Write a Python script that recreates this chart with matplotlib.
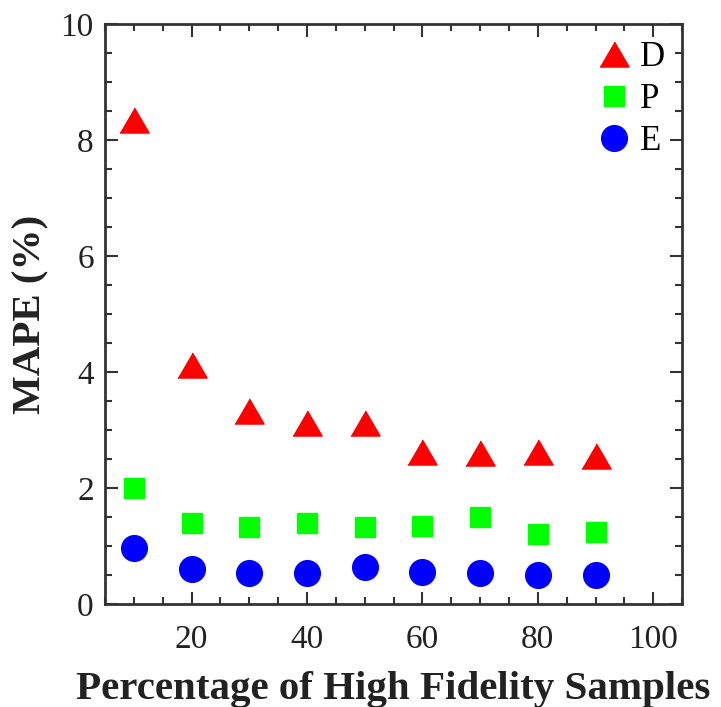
import matplotlib.pyplot as plt
from matplotlib.ticker import MultipleLocator

plt.rcParams['font.family'] = ['Liberation Serif', 'DejaVu Serif']

pct = [10, 20, 30, 40, 50, 60, 70, 80, 90]
mape_d = [8.35, 4.12, 3.32, 3.12, 3.12, 2.62, 2.60, 2.62, 2.55]
mape_p = [2.0, 1.40, 1.32, 1.40, 1.32, 1.34, 1.50, 1.21, 1.24]
mape_e = [0.97, 0.60, 0.53, 0.53, 0.63, 0.55, 0.54, 0.50, 0.50]

tri = [(-1, -0.86), (1, -0.86), (0, 0.86)]

fig = plt.figure(figsize=(7.21, 7.07), dpi=100)
ax = fig.add_axes([0.1456, 0.1457, 0.8004, 0.8203])

ax.plot(pct, mape_d, linestyle='none', marker=tri, ms=21, color='#ff0000', label='D')
ax.plot(pct, mape_p, linestyle='none', marker='s', ms=14.5, color='#00ff00', label='P')
ax.plot(pct, mape_e, linestyle='none', marker='o', ms=18.5, color='#0000ff', label='E')

ax.set_xlim(5, 105)
ax.set_ylim(0, 10)
ax.xaxis.set_major_locator(MultipleLocator(20))
ax.xaxis.set_minor_locator(MultipleLocator(5))
ax.yaxis.set_major_locator(MultipleLocator(2))
ax.yaxis.set_minor_locator(MultipleLocator(0.5))
ax.tick_params(which='both', direction='in', top=True, right=True, color='#333333', width=1.5)
ax.tick_params(which='major', length=9, labelsize=24, labelcolor='#222222', pad=8)
ax.tick_params(axis='x', which='major', pad=15)
ax.tick_params(which='minor', length=5)
for s in ax.spines.values():
    s.set_linewidth(2)
    s.set_color('#333333')

ax.set_xlabel('Percentage of High Fidelity Samples', fontsize=29.5, fontweight='bold', color='#222222', labelpad=11)
ax.set_ylabel('MAPE (%)', fontsize=29.5, fontweight='bold', color='#222222', labelpad=8)

ax.legend(loc='upper right', frameon=False, fontsize=25, handletextpad=0.15,
          labelspacing=0.25, borderaxespad=0.1, handlelength=1.2)

fig.savefig('out.png', dpi=100)
